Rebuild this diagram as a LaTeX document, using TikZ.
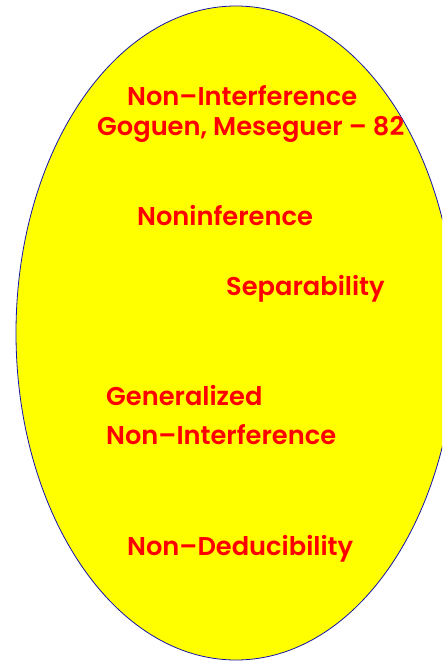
\documentclass[tikz,border=0pt]{standalone}
\usepackage{fontspec}
\setmainfont{Poppins}[BoldFont={Poppins SemiBold}]
\definecolor{ovalfill}{RGB}{255,255,0}
\definecolor{ovalline}{RGB}{20,20,170}
\definecolor{labelred}{RGB}{255,0,0}
\begin{document}
\begin{tikzpicture}[x=1pt,y=1pt,
  label/.style={anchor=base west,inner sep=0pt,text=labelred,font=\bfseries\fontsize{25.7}{30}\selectfont}]
\useasboundingbox (0,0) rectangle (442,-661);
\clip (0,0) rectangle (442,-661);
% the oval background
\draw[ovalline,fill=ovalfill,line width=0.8pt] (236,-333) ellipse [x radius=220,y radius=327];
% labels
\node[label] (ni)  at (127,-105) {Non–Interference};
\node[label] (gm)  at (97,-135)  {Goguen, Meseguer – 82};
\node[label] (nf)  at (137,-225) {Noninference};
\node[label] (sep) at (226,-295) {Separability};
\node[label] (gen) at (106,-405) {Generalized};
\node[label] (gni) at (106,-444) {Non–Interference};
\node[label] (nd)  at (127,-555) {Non–Deducibility};
\end{tikzpicture}
\end{document}
